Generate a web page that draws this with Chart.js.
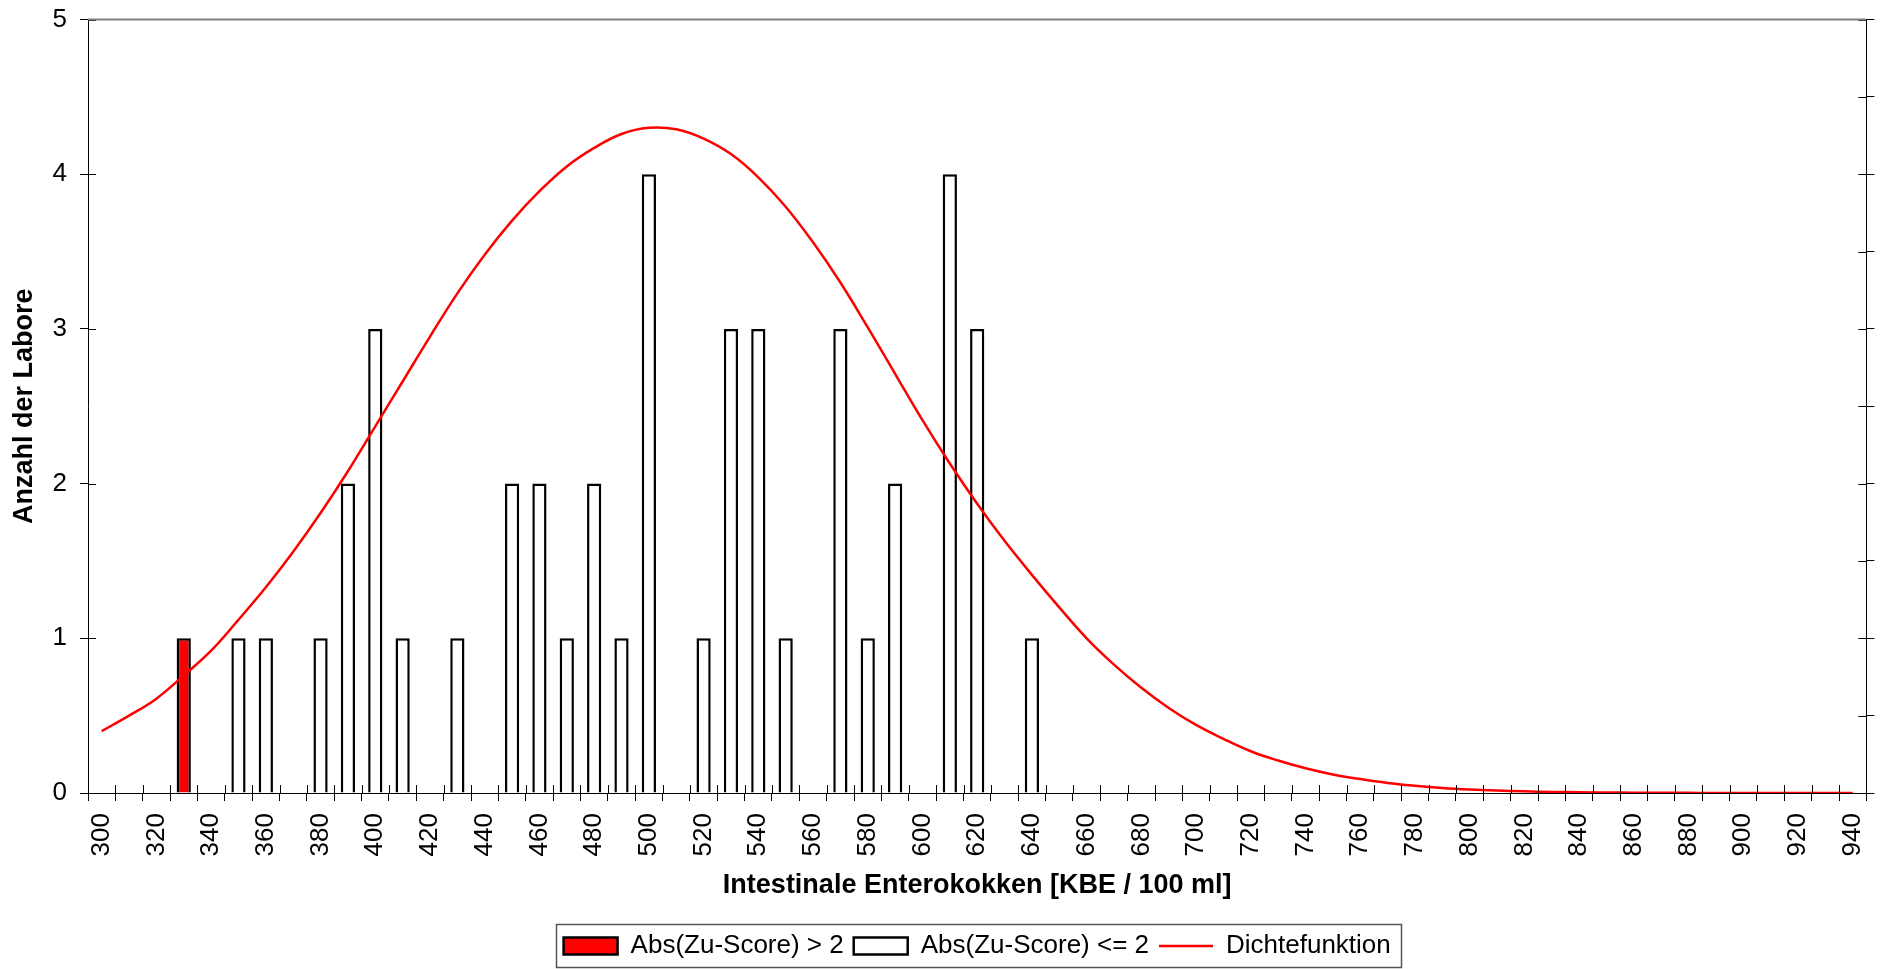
<!DOCTYPE html>
<html>
<head>
<meta charset="utf-8">
<script src="https://cdn.jsdelivr.net/npm/chart.js@4/dist/chart.umd.min.js"></script>
<style>
  body { margin: 0; background: #fff; }
  #wrap { width: 1896px; height: 969px; }
</style>
</head>
<body>
<div id="wrap"><canvas id="chart"></canvas></div>
<script>
// categories: Intestinale Enterokokken, steps of 10
const categories = [300, 310, 320, 330, 340, 350, 360, 370, 380, 390, 400, 410, 420, 430, 440, 450, 460, 470, 480, 490,
    500, 510, 520, 530, 540, 550, 560, 570, 580, 590, 600, 610, 620, 630, 640, 650, 660, 670, 680, 690,
    700, 710, 720, 730, 740, 750, 760, 770, 780, 790, 800, 810, 820, 830, 840, 850, 860, 870, 880, 890,
    900, 910, 920, 930, 940];

// labs with |z| > 2 (red bars)
const outsideCounts = [null, null, null, 1, null, null, null, null, null, null, null, null, null, null, null, null, null, null, null, null,
    null, null, null, null, null, null, null, null, null, null, null, null, null, null, null, null, null, null, null, null,
    null, null, null, null, null, null, null, null, null, null, null, null, null, null, null, null, null, null, null, null,
    null, null, null, null, null];

// labs with |z| <= 2 (white bars)
const insideCounts = [null, null, null, null, null, 1, 1, null, 1, 2, 3, 1, null, 1, null, 2, 2, 1, 2, 1,
    4, null, 1, 3, 3, 1, null, 3, 1, 2, null, 4, 3, null, 1, null, null, null, null, null,
    null, null, null, null, null, null, null, null, null, null, null, null, null, null, null, null, null, null, null, null,
    null, null, null, null, null];

// density curve
const density = [0.40, 0.50, 0.61, 0.76, 0.92, 1.12, 1.33, 1.56, 1.81, 2.08, 2.37, 2.66, 2.95, 3.23, 3.48, 3.70, 3.89, 4.05, 4.17, 4.26,
    4.30, 4.29, 4.23, 4.13, 3.98, 3.79, 3.56, 3.30, 3.01, 2.71, 2.41, 2.13, 1.87, 1.63, 1.41, 1.20, 1.00, 0.83, 0.68, 0.55,
    0.44, 0.35, 0.27, 0.21, 0.16, 0.12, 0.09, 0.065, 0.047, 0.033, 0.023, 0.016, 0.011, 0.007, 0.005, 0.003, 0.002, 0.001, 0.001, 0.0005,
    0, 0, 0, 0, 0];

const FONT = "'Liberation Sans', Arial, sans-serif";

// inner halves of the tick marks, the top border and the legend frame
const axisExtras = {
    id: "axisExtras",
    afterDraw(chart) {
        const ctx = chart.ctx;
        const a = chart.chartArea;
        const x = chart.scales.x, y = chart.scales.y, y2 = chart.scales.y2;
        ctx.save();
        ctx.strokeStyle = "#000";
        ctx.lineWidth = 1;
        ctx.beginPath();
        y.ticks.forEach(t => {
            const py = Math.round(y.getPixelForValue(t.value)) + 0.5;
            ctx.moveTo(a.left, py); ctx.lineTo(a.left + 8, py);
        });
        y2.ticks.forEach(t => {
            const py = Math.round(y2.getPixelForValue(t.value)) + 0.5;
            ctx.moveTo(a.right - 8, py); ctx.lineTo(a.right, py);
        });
        const w = (x.right - x.left) / categories.length;
        for (let i = 0; i <= categories.length; i++) {
            const px = Math.round(x.left + i * w) + 0.5;
            ctx.moveTo(px, a.bottom - 8); ctx.lineTo(px, a.bottom);
        }
        ctx.stroke();

        ctx.strokeStyle = "#808080";
        ctx.lineWidth = 2;
        ctx.beginPath();
        ctx.moveTo(a.left, a.top); ctx.lineTo(a.right, a.top);
        ctx.stroke();

        const boxes = chart.legend.legendHitBoxes;
        if (boxes && boxes.length) {
            const l = Math.min(...boxes.map(b => b.left)) - 8;
            const r = Math.max(...boxes.map(b => b.left + b.width)) + 10;
            const t = boxes[0].top - 9;
            const b = boxes[0].top + boxes[0].height + 8;
            ctx.strokeStyle = "#555";
            ctx.lineWidth = 1.5;
            ctx.strokeRect(Math.round(l) + 0.5, Math.round(t) + 0.5, Math.round(r - l), Math.round(b - t));
        }
        ctx.restore();
    }
};

new Chart(document.getElementById("chart"), {
    type: "bar",
    data: {
        labels: categories,
        datasets: [{
            label: "Abs(Zu-Score) > 2",
            data: outsideCounts,
            backgroundColor: "#ff0000",
            borderColor: "#000",
            borderWidth: 2.5,
            grouped: false,
            order: 1,
            pointStyle: "rect",
            categoryPercentage: 1,
            barPercentage: 0.52
        }, {
            label: "Abs(Zu-Score) <= 2",
            data: insideCounts,
            backgroundColor: "#fff",
            borderColor: "#000",
            borderWidth: 2.5,
            grouped: false,
            order: 1,
            pointStyle: "rect",
            categoryPercentage: 1,
            barPercentage: 0.52
        }, {
            type: "line",
            label: "Dichtefunktion",
            data: density,
            yAxisID: "y2",
            borderColor: "#ff0000",
            backgroundColor: "#ff0000",
            borderWidth: 2.5,
            pointRadius: 0,
            pointStyle: "line",
            tension: 0.4,
            fill: false,
            order: 0
        }]
    },
    options: {
        responsive: true,
        maintainAspectRatio: false,
        animation: false,
        layout: { padding: { top: 0, right: 0, bottom: 0, left: 0 } },
        plugins: {
            tooltip: { enabled: false },
            legend: {
                position: "bottom",
                fullSize: false,
                labels: {
                    usePointStyle: true,
                    pointStyleWidth: 54,
                    boxHeight: 17,
                    padding: 10,
                    color: "#000",
                    font: { family: FONT, size: 26 },
                    sort: (a, b) => a.datasetIndex - b.datasetIndex
                }
            }
        },
        scales: {
            x: {
                grid: { drawOnChartArea: false, color: "#000", tickLength: 8, offset: true },
                border: { color: "#000", width: 1 },
                ticks: {
                    autoSkip: false,
                    maxRotation: 90,
                    minRotation: 90,
                    padding: 12,
                    color: "#000",
                    font: { family: FONT, size: 26 },
                    callback: (v, i) => i % 2 === 0 ? String(categories[i]) : ""
                },
                title: {
                    display: true,
                    text: "Intestinale Enterokokken [KBE / 100 ml]",
                    color: "#000",
                    font: { family: FONT, size: 27, weight: "bold" },
                    padding: { top: 4, bottom: 21 }
                },
                afterFit: s => { s.height = 130; }
            },
            y: {
                min: 0,
                max: 5,
                ticks: { stepSize: 1, padding: 13, color: "#000", font: { family: FONT, size: 26, lineHeight: 0.5 } },
                grid: { drawOnChartArea: false, color: "#000", tickLength: 8 },
                border: { color: "#000", width: 1 },
                title: {
                    display: true,
                    text: "Anzahl der Labore",
                    color: "#000",
                    font: { family: FONT, size: 27, weight: "bold" },
                    padding: { top: 8, bottom: 0 }
                },
                afterFit: s => { s.width = 88; }
            },
            y2: {
                position: "right",
                min: 0,
                max: 5,
                ticks: { stepSize: 0.5, display: false },
                grid: { drawOnChartArea: false, color: "#000", tickLength: 8 },
                border: { color: "#000", width: 1 },
                afterFit: s => { s.width = 15; }
            }
        }
    },
    plugins: [axisExtras]
});
</script>
</body>
</html>
